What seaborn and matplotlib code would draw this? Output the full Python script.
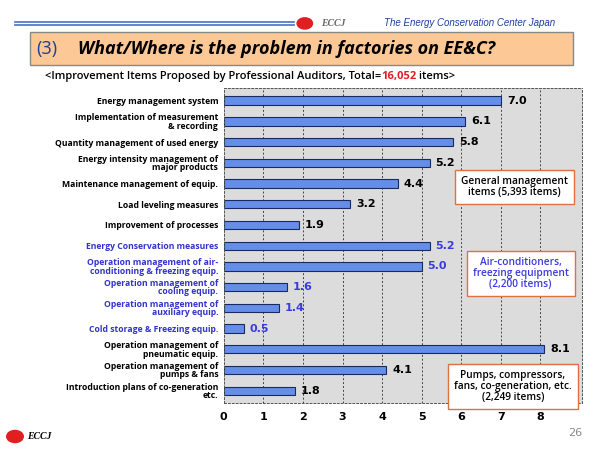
import matplotlib
matplotlib.use("Agg")
import matplotlib.pyplot as plt
import matplotlib.patches as mpatches
import seaborn as sns
import pandas as pd

categories = [
    "Energy management system",
    "Implementation of measurement\n& recording",
    "Quantity management of used energy",
    "Energy intensity management of\nmajor products",
    "Maintenance management of equip.",
    "Load leveling measures",
    "Improvement of processes",
    "Energy Conservation measures",
    "Operation management of air-\nconditioning & freezing equip.",
    "Operation management of\ncooling equip.",
    "Operation management of\nauxiliary equip.",
    "Cold storage & Freezing equip.",
    "Operation management of\npneumatic equip.",
    "Operation management of\npumps & fans",
    "Introduction plans of co-generation\netc.",
]
values = [7.0, 6.1, 5.8, 5.2, 4.4, 3.2, 1.9, 5.2, 5.0, 1.6, 1.4, 0.5, 8.1, 4.1, 1.8]
groups = ["gen"] * 7 + ["air"] * 5 + ["pump"] * 3
xticks = [0, 1, 2, 3, 4, 5, 6, 7, 8]

label_col = {"gen": "black", "air": "#3333cc", "pump": "black"}
value_col = {"gen": "black", "air": "#3a3ae0", "pump": "black"}

df = pd.DataFrame({"item": categories, "value": values, "group": groups})

fig = plt.figure(figsize=(6, 4.5), dpi=100)
fig.patch.set_facecolor("white")

# header
fig.add_artist(plt.Line2D([0.025, 0.49], [0.952, 0.952], color="#4a6ec8", lw=1.2))
fig.add_artist(plt.Line2D([0.025, 0.49], [0.944, 0.944], color="#4a6ec8", lw=1.2))
fig.add_artist(mpatches.Circle((0.508, 0.948), 0.014, transform=fig.transFigure,
                               facecolor="#e02020", edgecolor="none"))
fig.text(0.535, 0.948, "ECCJ", fontsize=7, style="italic", weight="bold", color="#666666",
         family="Liberation Serif", va="center")
fig.text(0.925, 0.948, "The Energy Conservation Center Japan", fontsize=7, style="italic",
         color="#1f3fa0", va="center", ha="right", family="Liberation Sans")
fig.add_artist(mpatches.Rectangle((0.05, 0.855), 0.905, 0.075, transform=fig.transFigure,
                                  facecolor="#fbc896", edgecolor="#888888", lw=1))
fig.text(0.06, 0.892, "(3)", fontsize=13, color="#1f3f8f", va="center", family="Open Sans")
fig.text(0.13, 0.892, "What/Where is the problem in factories on EE&C?", fontsize=13,
         style="italic", weight="bold", va="center", family="Open Sans")
fig.text(0.97, 0.03, "26", fontsize=8, color="#888888", ha="right")
fig.add_artist(mpatches.Circle((0.025, 0.03), 0.015, transform=fig.transFigure,
                               facecolor="#e02020", edgecolor="none"))
fig.text(0.045, 0.025, "ECCJ", fontsize=7, style="italic", weight="bold", family="Liberation Serif")

ax = fig.add_axes([0.373, 0.104, 0.597, 0.70])
ax.set_facecolor("#dcdcdc")

# subtitle, chained pieces
s1 = fig.text(0.075, 0.829, "<Improvement Items Proposed by Professional Auditors, Total=",
              fontsize=8, va="center", family="Open Sans", weight="semibold")
s2 = ax.annotate("16,052", xycoords=s1, xy=(1, 0.5), va="center", fontsize=8, color="#e02020",
                 family="Open Sans", weight="bold", annotation_clip=False)
ax.annotate(" items>", xycoords=s2, xy=(1, 0.5), va="center", fontsize=8,
            family="Open Sans", weight="semibold", annotation_clip=False)

sns.barplot(data=df, y="item", x="value", orient="h", color="#4f86ff", edgecolor="#1a2a60",
            linewidth=0.8, width=0.4, ax=ax)
ax.set_xlim(0, 9.05)
ax.set_ylim(len(categories) - 0.4, -0.6)
ax.set_xticks(xticks)
ax.set_xticklabels([str(t) for t in xticks], fontsize=8, weight="bold")
ax.set_xlabel("")
ax.set_ylabel("")
for t in xticks[1:]:
    ax.axvline(t, color="#444444", ls=(0, (2, 2)), lw=0.7, zorder=0)
for s in ax.spines.values():
    s.set_linestyle((0, (2, 2)))
    s.set_linewidth(0.7)
    s.set_color("#555555")
ax.tick_params(axis="both", length=0, pad=4)
ax.tick_params(axis="x", pad=6)
for lab, g in zip(ax.get_yticklabels(), groups):
    lab.set_color(label_col[g])
    lab.set_fontsize(6.2)
    lab.set_weight("bold")
    lab.set_family("Open Sans")
    lab.set_linespacing(0.9)
for i, (v, g) in enumerate(zip(values, groups)):
    ax.text(v + 0.15, i, f"{v:.1f}", va="center", ha="left", fontsize=8, weight="bold",
            color=value_col[g])

boxes = [
    (7.35, 4.15, "General management\nitems (5,393 items)", "black"),
    (7.5, 8.35, "Air-conditioners,\nfreezing equipment\n(2,200 items)", "#3a3ae0"),
    (7.3, 13.8, "Pumps, compressors,\nfans, co-generation, etc.\n(2,249 items)", "black"),
]
for x, y, txt, c in boxes:
    ax.text(x, y, txt, ha="center", va="center", fontsize=7.3, color=c, weight="semibold",
            family="Open Sans", linespacing=1.0, zorder=5,
            bbox=dict(boxstyle="square,pad=0.6", facecolor="white", edgecolor="#e07040", lw=1))

fig.savefig("out.png", dpi=100)
